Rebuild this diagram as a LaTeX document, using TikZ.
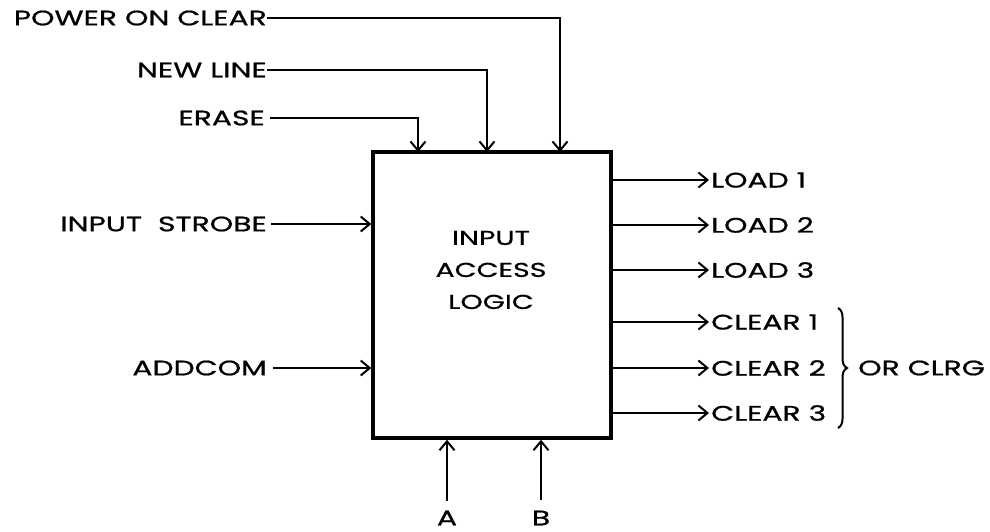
\documentclass[tikz,border=0pt]{standalone}
\usepackage{fontspec}
\setmainfont[FakeStretch=1.42, FakeBold=0.8]{Poppins}
\usetikzlibrary{arrows.meta,decorations.pathreplacing}

\tikzset{
  sig/.style={line width=2.2pt, -{Straight Barb[length=9pt, width=15pt, line width=2pt]}},
  lbl/.style={inner sep=0pt, font=\fontsize{21}{21}\selectfont},
  blockbox/.style={draw, line width=3.4pt, minimum width=238pt, minimum height=286pt, inner sep=0pt}
}

\begin{document}
\begin{tikzpicture}[x=1pt, y=-1pt]
  \useasboundingbox (0,0) rectangle (990,531);

  % 主框
  \node[blockbox] (box) at (492,295) {};
  \node[lbl, align=center, font=\fontsize{20}{32}\selectfont] (boxtxt) at (491,270) {INPUT\\ACCESS\\LOGIC};

  % 上方输入
  \node[lbl, anchor=east] (pwr) at (267,18) {POWER ON CLEAR};
  \node[lbl, anchor=east] (nl) at (267,70) {NEW LINE};
  \node[lbl, anchor=east] (er) at (265,118) {ERASE};
  \coordinate (erin) at (418,152);
  \coordinate (nlin) at (487,152);
  \coordinate (pwrin) at (560,152);
  \draw[sig] (pwr.east) -| (pwrin);
  \draw[sig] (nl.east) -| (nlin);
  \draw[sig] ([xshift=5pt]er.east) -| (erin);

  % 左侧输入
  \node[lbl, anchor=east] (strobe) at (267,224) {INPUT\ \ STROBE};
  \node[lbl, anchor=east] (addcom) at (267,368) {ADDCOM};
  \draw[sig] ([xshift=4pt]strobe.east) -- (strobe.east -| box.west);
  \draw[sig] ([xshift=6pt]addcom.east) -- (addcom.east -| box.west);

  % 右侧输出
  \foreach \name/\txt/\yy in {ld1/LOAD 1/180, ld2/LOAD 2/225, ld3/LOAD 3/270,
                              cl1/CLEAR 1/322, cl2/CLEAR 2/368, cl3/CLEAR 3/413}{
    \node[lbl, anchor=west] (\name) at (711,\yy) {\txt};
    \draw[sig] (\name.west -| box.east) -- ([xshift=-2pt]\name.west);
  }

  % 括号
  \draw[line width=2pt, decorate, decoration={brace, amplitude=9pt}] (838,308) -- (838,428);
  \node[lbl, anchor=west] (clrg) at (858,368) {OR CLRG};

  % 下方输入
  \node[lbl] (a) at (447,518) {A};
  \node[lbl] (b) at (541,518) {B};
  \draw[sig] ([yshift=10pt]a.north) -- (a.north |- box.south);
  \draw[sig] ([yshift=10pt]b.north) -- (b.north |- box.south);
\end{tikzpicture}
\end{document}
